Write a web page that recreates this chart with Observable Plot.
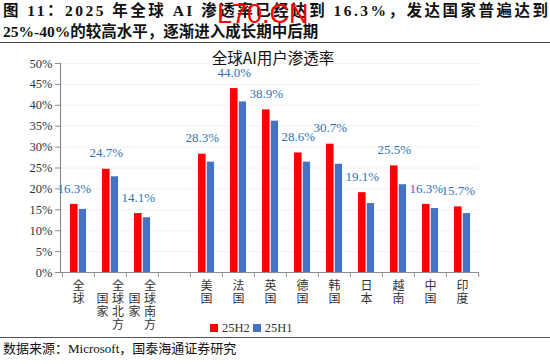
<!DOCTYPE html>
<html><head><meta charset="utf-8">
<script src="https://cdn.jsdelivr.net/npm/d3@7"></script>
<script src="https://cdn.jsdelivr.net/npm/@observablehq/plot@0.6"></script>
<style>
html,body{margin:0;padding:0;background:#fff;}
body{width:550px;height:364px;position:relative;overflow:hidden;font-family:"Liberation Serif","Noto Sans CJK SC",serif;}
#title{height:42px;border-bottom:1.5px solid #444;padding:0 2px 0 3px;font-weight:bold;font-size:15.5px;color:#111;line-height:21px;}
#title .l1{white-space:nowrap;display:inline-block;}
#wm{position:absolute;left:217px;top:1px;font-family:"Liberation Sans",sans-serif;font-size:27px;line-height:1;color:#f00;}
#chart{position:relative;height:294px;border-bottom:1.5px solid #555;}
#legend{position:absolute;left:210px;top:321px;font-size:12.5px;color:#333;display:flex;align-items:center;line-height:14px;}
#legend .sw{display:inline-block;width:8px;height:8px;margin-right:4px;}
#source{font-size:13px;color:#111;padding-left:3px;line-height:20px;margin-top:1px;}
</style></head>
<body>
<div id="title"><span class="l1" id="l1">图 11：2025 年全球 AI 渗透率已经达到 16.3%，发达国家普遍达到</span><div>25%-40%的较高水平，逐渐进入成长期中后期</div></div>
<div id="wm">L70.CN</div>
<div id="chart"></div>
<div id="legend"><span class="sw" style="background:#ff0000"></span><span>25H2</span><span class="sw" style="background:#4472c4;margin-left:3px"></span><span>25H1</span></div>
<div id="source">数据来源：Microsoft，国泰海通证券研究</div>
<script>
const categories = ["全球","全球北方国家","全球南方国家"," ","美国","法国","英国","德国","韩国","日本","越南","中国","印度"];
const h2 = [16.3, 24.7, 14.1, null, 28.3, 44.0, 38.9, 28.6, 30.7, 19.1, 25.5, 16.3, 15.7];
const h1 = [15.1, 22.9, 13.1, null, 26.4, 40.8, 36.2, 26.4, 25.9, 16.5, 21.0, 15.3, 14.1];
const yTicks = [0,5,10,15,20,25,30,35,40,45,50];
const seriesNames = ["25H2","25H1"];
const chartTitle = "全球AI用户渗透率";

// stretch first title line to the full width, like the justified original
(function(){
  const el = document.getElementById("l1");
  const n = el.textContent.length;
  const w = el.getBoundingClientRect().width;
  const target = 545;
  el.style.letterSpacing = ((target - w) / (n - 1)) + "px";
})();

const rows = categories.map((c,i)=>({cat:c, h2:h2[i], h1:h1[i]})).filter(d=>d.h2!=null);
const twoCol = rows.filter(d=>d.cat.length>4);
const oneCol = rows.filter(d=>d.cat.length<=4);
const vert = s => s.split("").join("\n");

const W = 550, H = 294, mL = 60, mR = 71, mT = 20, mB = 65;
const bw = (W - mL - mR) / categories.length;
const cjk = '"Noto Sans CJK SC",sans-serif';

const plot = Plot.plot({
  width: W, height: H,
  marginLeft: mL, marginRight: mR, marginTop: mT, marginBottom: mB,
  style: {fontFamily: '"Liberation Serif","Noto Sans CJK SC",serif', overflow: "visible"},
  x: {type: "band", domain: categories, padding: 0, axis: null},
  y: {domain: [0, 50], axis: null},
  marks: [
    Plot.ruleY(yTicks.slice(1), {stroke: "#f2f2f2"}),
    Plot.barY(rows, {x: "cat", y: "h2", fill: "#ff0000", insetLeft: 8, insetRight: bw - 15.8}),
    Plot.barY(rows, {x: "cat", y: "h1", fill: "#4472c4", insetLeft: 16.8, insetRight: bw - 24.3}),
    Plot.ruleY([0], {stroke: "#8c8c8c", strokeWidth: 1.2}),
    Plot.frame({anchor: "left", stroke: "#8c8c8c", strokeWidth: 1.2}),
    Plot.ruleX(categories, {x: d=>d, y1: 0, y2: -1.2, dx: -bw/2, stroke: "#8c8c8c"}),
    Plot.ruleX(categories.slice(-1), {x: d=>d, y1: 0, y2: -1.2, dx: bw/2, stroke: "#8c8c8c"}),
    Plot.axisY({ticks: yTicks, tickFormat: d=>d+"%", tickSize: 5, tickPadding: 3, fontSize: 12.5, fill: "#333", stroke: "#8c8c8c"}),
    Plot.text(rows, {x: "cat", y: "h2", text: d=>d.h2.toFixed(1)+"%", dx: -4.3, dy: -16, fill: "#2f75b5", fontSize: 13}),
    Plot.text(oneCol, {x: "cat", text: d=>vert(d.cat), frameAnchor: "bottom", lineAnchor: "top", dy: 8, fontSize: 12, lineHeight: 1.08, fill: "#333", fontFamily: cjk}),
    Plot.text(twoCol, {x: "cat", text: d=>vert(d.cat.slice(0,4)), frameAnchor: "bottom", lineAnchor: "top", dx: 7.5, dy: 8, fontSize: 12, lineHeight: 1.08, fill: "#333", fontFamily: cjk}),
    Plot.text(twoCol, {x: "cat", text: d=>vert(d.cat.slice(4)), frameAnchor: "bottom", lineAnchor: "top", dx: -8, dy: 21, fontSize: 12, lineHeight: 1.08, fill: "#333", fontFamily: cjk}),
    Plot.text([chartTitle], {frameAnchor: "top", dy: -11, dx: 3, fontSize: 15.5, fill: "#111", fontFamily: cjk})
  ]
});
document.getElementById("chart").appendChild(plot);
</script>
</body></html>
